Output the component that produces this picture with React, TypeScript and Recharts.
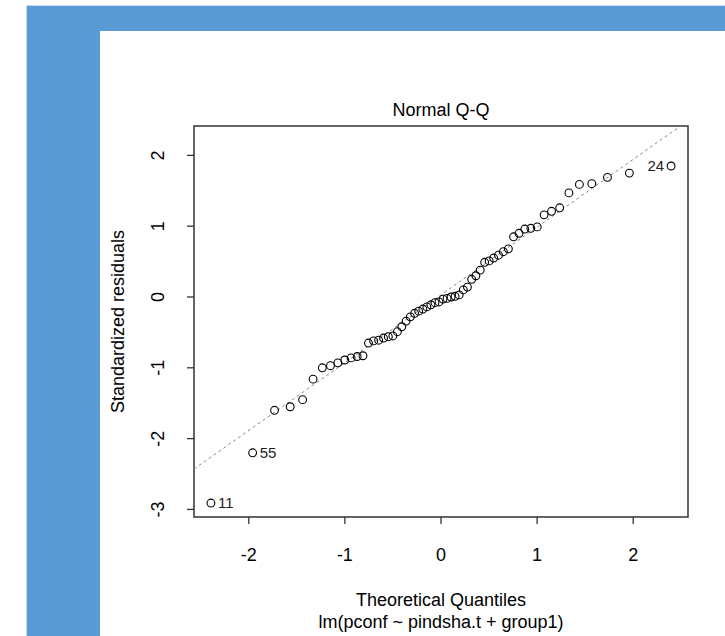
import React from 'react';
import { ScatterChart, Scatter, XAxis, YAxis, ReferenceLine, ReferenceArea } from 'recharts';

// Theoretical normal quantiles (n = 60)
const theoreticalQuantiles = [
  -2.394, -1.960, -1.732, -1.569, -1.440, -1.331, -1.235, -1.150, -1.073, -1.001,
  -0.935, -0.872, -0.812, -0.755, -0.701, -0.649, -0.598, -0.548, -0.501, -0.454,
  -0.408, -0.363, -0.319, -0.275, -0.232, -0.189, -0.147, -0.105, -0.063, -0.021,
  0.021, 0.063, 0.105, 0.147, 0.189, 0.232, 0.275, 0.319, 0.363, 0.408,
  0.454, 0.501, 0.548, 0.598, 0.649, 0.701, 0.755, 0.812, 0.872, 0.935,
  1.001, 1.073, 1.150, 1.235, 1.331, 1.440, 1.569, 1.732, 1.960, 2.394,
];

// Standardized residuals (sorted)
const standardizedResiduals = [
  -2.91, -2.20, -1.60, -1.55, -1.45, -1.16, -1.00, -0.97, -0.93, -0.89,
  -0.86, -0.84, -0.83, -0.65, -0.62, -0.61, -0.58, -0.56, -0.55, -0.49,
  -0.42, -0.34, -0.28, -0.23, -0.20, -0.17, -0.14, -0.11, -0.08, -0.07,
  -0.03, -0.02, 0.00, 0.01, 0.03, 0.10, 0.14, 0.25, 0.30, 0.38,
  0.49, 0.51, 0.55, 0.59, 0.64, 0.68, 0.85, 0.90, 0.96, 0.97,
  0.99, 1.16, 1.21, 1.26, 1.47, 1.59, 1.60, 1.69, 1.75, 1.85,
];

const labelledIndices = [0, 1, 59];
const labelTexts = ['11', '55', '24'];
const labelSides = ['right', 'right', 'left'];

const xTicks = [-2, -1, 0, 1, 2];
const yTicks = [-3, -2, -1, 0, 1, 2];
const xDomain: [number, number] = [-2.57, 2.57];
const yDomain: [number, number] = [-3.107, 2.415];

const refIntercept = 0.03;
const refSlope = 0.957;

const chartTitle = 'Normal Q-Q';
const xTitle = 'Theoretical Quantiles';
const xSubtitle = 'lm(pconf ~ pindsha.t + group1)';
const yTitle = 'Standardized residuals';

const FONT = '"Liberation Sans", Arial, Helvetica, sans-serif';

const data = theoreticalQuantiles.map((x, i) => {
  const k = labelledIndices.indexOf(i);
  return {
    x,
    y: standardizedResiduals[i],
    label: k >= 0 ? labelTexts[k] : '',
    side: k >= 0 ? labelSides[k] : '',
  };
});

const QQPoint = (props: any) => {
  const { cx, cy, payload } = props;
  if (cx == null || cy == null) return null;
  const left = payload.side === 'left';
  return (
    <g>
      <circle cx={cx} cy={cy} r={3.9} fill="none" stroke="#000" strokeWidth={1.1} />
      {payload.label ? (
        <text
          x={left ? cx - 7 : cx + 7}
          y={cy}
          dy="0.36em"
          textAnchor={left ? 'end' : 'start'}
          fontSize={15}
          fontFamily={FONT}
          fill="#222"
        >
          {payload.label}
        </text>
      ) : null}
    </g>
  );
};

const YTick = (props: any) => {
  const { x, y, payload } = props;
  return (
    <text
      x={x}
      y={y}
      transform={`rotate(-90, ${x}, ${y})`}
      textAnchor="middle"
      fontSize={18}
      fontFamily={FONT}
      fill="#000"
    >
      {payload.value}
    </text>
  );
};

const XLabel = (props: any) => {
  const vb = props.viewBox;
  const cx = vb.x + vb.width / 2;
  return (
    <g>
      <text x={cx} y={vb.y + 89} textAnchor="middle" fontSize={18} fontFamily={FONT} fill="#000">
        {xTitle}
      </text>
      <text x={cx} y={vb.y + 111} textAnchor="middle" fontSize={18} fontFamily={FONT} fill="#000">
        {xSubtitle}
      </text>
    </g>
  );
};

const YLabel = (props: any) => {
  const vb = props.viewBox;
  const cy = vb.y + vb.height / 2;
  const x = vb.x - 10;
  return (
    <text
      x={x}
      y={cy}
      transform={`rotate(-90, ${x}, ${cy})`}
      textAnchor="middle"
      fontSize={18}
      fontFamily={FONT}
      fill="#000"
    >
      {yTitle}
    </text>
  );
};

const TitleLabel = (props: any) => {
  const vb = props.viewBox;
  return (
    <text
      x={vb.x + vb.width / 2}
      y={vb.y - 10}
      textAnchor="middle"
      fontSize={18}
      fontFamily={FONT}
      fill="#000"
    >
      {chartTitle}
    </text>
  );
};

export default function App() {
  return (
    <div
      style={{
        position: 'absolute',
        left: 0,
        top: 0,
        width: 725,
        height: 636,
        background: '#fff',
        overflow: 'hidden',
      }}
    >
      <div style={{ position: 'absolute', left: 26, top: 5, width: 699, height: 1, background: '#c9dcef' }} />
      <div style={{ position: 'absolute', left: 26, top: 5, width: 1, height: 631, background: '#c9dcef' }} />
      <div style={{ position: 'absolute', left: 27, top: 6, width: 698, height: 25, background: '#5B9BD5' }} />
      <div style={{ position: 'absolute', left: 27, top: 6, width: 73, height: 630, background: '#5B9BD5' }} />
      <div style={{ position: 'absolute', left: 0, top: 0 }}>
        <ScatterChart
          width={725}
          height={636}
          margin={{ top: 126, right: 37, bottom: 79, left: 134 }}
        >
          <XAxis
            type="number"
            dataKey="x"
            domain={xDomain}
            ticks={xTicks}
            interval={0}
            allowDataOverflow
            axisLine={false}
            tickLine={{ stroke: '#333', strokeWidth: 1.3 }}
            tickSize={7}
            tickMargin={24}
            height={40}
            tick={{ fontSize: 18, fill: '#000', fontFamily: FONT }}
            label={(p: any) => <XLabel {...p} />}
          />
          <YAxis
            type="number"
            dataKey="y"
            domain={yDomain}
            ticks={yTicks}
            interval={0}
            allowDataOverflow
            axisLine={false}
            tickLine={{ stroke: '#333', strokeWidth: 1.3 }}
            tickSize={7}
            tickMargin={23}
            width={60}
            tick={(p: any) => <YTick {...p} />}
            label={(p: any) => <YLabel {...p} />}
          />
          <ReferenceArea
            x1={xDomain[0]}
            x2={xDomain[1]}
            y1={yDomain[0]}
            y2={yDomain[1]}
            fill="none"
            fillOpacity={0}
            stroke="#333"
            strokeWidth={1.5}
            ifOverflow="visible"
            label={(p: any) => <TitleLabel {...p} />}
          />
          <ReferenceLine
            segment={[
              { x: xDomain[0], y: refIntercept + refSlope * xDomain[0] },
              { x: xDomain[1], y: refIntercept + refSlope * xDomain[1] },
            ]}
            ifOverflow="hidden"
            stroke="#8a8a8a"
            strokeWidth={1}
            strokeDasharray="3 3"
          />
          <Scatter
            data={data}
            isAnimationActive={false}
            shape={(p: any) => <QQPoint {...p} />}
          />
        </ScatterChart>
      </div>
    </div>
  );
}
